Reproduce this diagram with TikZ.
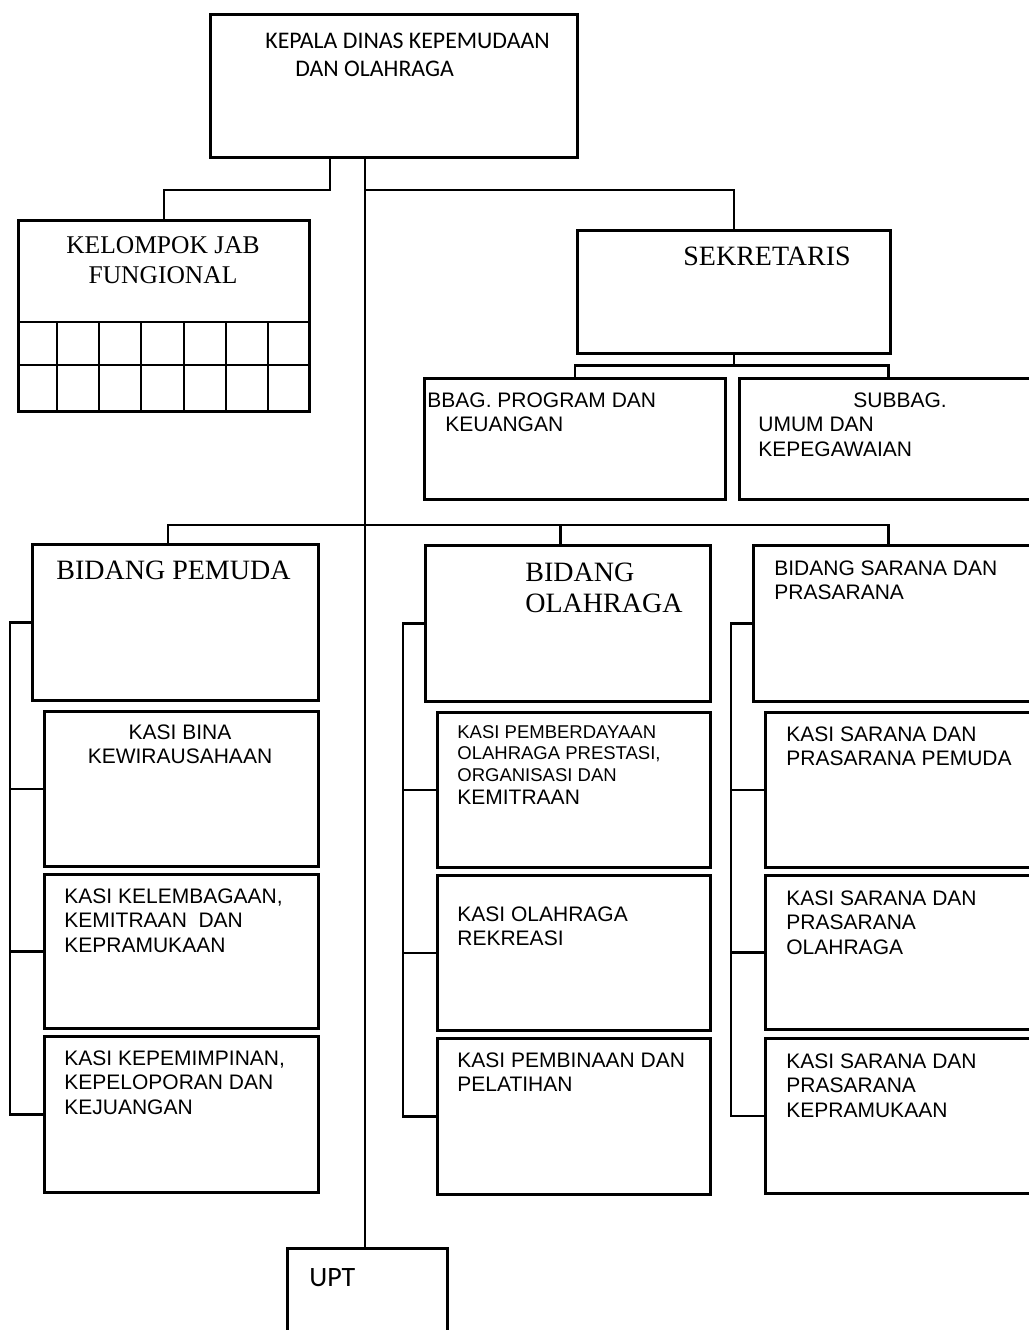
\documentclass[tikz,border=0pt]{standalone}
\usepackage{fontspec}
\setmainfont{Liberation Serif}
\newfontfamily\arial{Liberation Sans}
\newfontfamily\calibri{Carlito}
\usepackage{tikz}

\begin{document}
\begin{tikzpicture}[x=0.5pt,y=-0.5pt,
	box/.style={draw=black,line width=1.3pt,rectangle,anchor=north west,inner sep=0pt},
	link/.style={line width=1.3pt},
	lbl/.style={anchor=north west,inner sep=0pt,align=left,font=\arial\fontsize{10.5}{12.25}\selectfont},
	small/.style={lbl,font=\arial\fontsize{9.25}{10.75}\selectfont},
	serif/.style={lbl,font=\fontsize{14}{15.5}\selectfont},
	cal/.style={lbl,font=\calibri\fontsize{11.9}{14}\selectfont}]
	\path[use as bounding box,clip] (0,0) rectangle (1029,1330);

	% boxes
	\node[box,minimum width=183.5pt,minimum height=71.5pt] (kepala) at (209,13) {};
	\node[box,minimum width=145.5pt,minimum height=95.5pt] (kelompok) at (17,219) {};
	\node[box,minimum width=156.5pt,minimum height=61.5pt] (sekretaris) at (576,229) {};
	\node[box,minimum width=150.5pt,minimum height=60.5pt] (program) at (423,377) {};
	\node[box,minimum width=149pt,minimum height=60.5pt] (umum) at (738,377) {};
	\node[box,minimum width=143pt,minimum height=78pt] (pemuda) at (31,543) {};
	\node[box,minimum width=142.5pt,minimum height=78pt] (olahraga) at (424,544) {};
	\node[box,minimum width=150pt,minimum height=78pt] (sarana) at (752,544) {};
	\node[box,minimum width=137pt,minimum height=77.5pt] (kasiBina) at (43,710) {};
	\node[box,minimum width=137pt,minimum height=77pt] (kasiLembaga) at (43,873) {};
	\node[box,minimum width=137pt,minimum height=78pt] (kasiPimpin) at (43,1035) {};
	\node[box,minimum width=136.5pt,minimum height=77.5pt] (kasiPrestasi) at (436,711) {};
	\node[box,minimum width=136.5pt,minimum height=77.5pt] (kasiRekreasi) at (436,874) {};
	\node[box,minimum width=136.5pt,minimum height=78pt] (kasiLatih) at (436,1037) {};
	\node[box,minimum width=150pt,minimum height=77.5pt] (kasiSpemuda) at (764,711) {};
	\node[box,minimum width=150pt,minimum height=77pt] (kasiSolahraga) at (764,874) {};
	\node[box,minimum width=150pt,minimum height=77.5pt] (kasiSpramuka) at (764,1037) {};
	\node[box,minimum width=80pt,minimum height=60pt] (upt) at (286,1247) {};

	% grid of kelompok jab fungional
	\draw[link] (17,322) -- (308,322);
	\draw[link] (17,365) -- (308,365);
	\foreach \gx in {57,99,141,184,226,268}
		\draw[link] (\gx,322) -- (\gx,410);

	% texts
	\node[cal] (tKepala) at (265,33) {KEPALA DINAS KEPEMUDAAN\\\hspace*{15pt}DAN OLAHRAGA};
	\node[serif,anchor=north,align=center,font=\fontsize{12.75}{15}\selectfont] (tKelompok) at (163,236) {KELOMPOK JAB\\FUNGIONAL};
	\node[serif] (tSekretaris) at (683,246.5) {SEKRETARIS};
	\node[lbl] (tProgram) at (427,392) {BBAG. PROGRAM DAN\\\hspace*{9pt}KEUANGAN};
	\node[lbl] (tUmum) at (758,392) {\hspace*{47.5pt}SUBBAG.\\UMUM DAN\\KEPEGAWAIAN};
	\node[serif] (tPemuda) at (56,560.5) {BIDANG PEMUDA};
	\node[serif] (tOlahraga) at (525,562.5) {BIDANG\\OLAHRAGA};
	\node[lbl] (tSarana) at (774,560) {BIDANG SARANA DAN\\PRASARANA};
	\node[lbl,anchor=north,align=center] (tBina) at (180,724) {KASI BINA\\KEWIRAUSAHAAN};
	\node[lbl] (tLembaga) at (64,888) {KASI KELEMBAGAAN,\\KEMITRAAN\ \ DAN\\KEPRAMUKAAN};
	\node[lbl] (tPimpin) at (64,1050) {KASI KEPEMIMPINAN,\\KEPELOPORAN DAN\\KEJUANGAN};
	\node[small] (tPrestasi) at (457,724.8) {KASI PEMBERDAYAAN\\OLAHRAGA PRESTASI,\\ORGANISASI DAN};
	\node[lbl] (tMitra) at (457,790) {KEMITRAAN};
	\node[lbl] (tRekreasi) at (457,906) {KASI OLAHRAGA\\REKREASI};
	\node[lbl] (tLatih) at (457,1052) {KASI PEMBINAAN DAN\\PELATIHAN};
	\node[lbl] (tSpemuda) at (786,726) {KASI SARANA DAN\\PRASARANA PEMUDA};
	\node[lbl] (tSolahraga) at (786,890) {KASI SARANA DAN\\PRASARANA\\OLAHRAGA};
	\node[lbl] (tSpramuka) at (786,1053) {KASI SARANA DAN\\PRASARANA\\KEPRAMUKAAN};
	\node[cal,font=\calibri\fontsize{14}{16}\selectfont] (tUpt) at (309,1268) {UPT};

	% connectors
	\coordinate (kd) at (330,156);
	\coordinate (spine) at (365,156);
	\draw[link] (kd) -- ++(0,34) -| (kelompok.north);
	\draw[link] (spine) -- (spine |- upt.north);
	\draw[link] (spine) ++(0,34) -| (sekretaris.north);
	\draw[link] (sekretaris.south) -- ++(0,11) coordinate (sj);
	\draw[link] (program.north) |- (sj) -| (umum.north);
	\draw[link] ([xshift=-3.75pt]pemuda.north) -- ++(0,-18) -| ([xshift=-7.5pt]sarana.north);
	\draw[link] ([xshift=-3.75pt]olahraga.north) -- ++(0,-19);

	\draw[link] (pemuda.west) -- ++(-21,0) coordinate (pb) |- (kasiPimpin.west);
	\foreach \k in {kasiBina,kasiLembaga}
		\draw[link] (pb |- \k.west) -- (\k.west);
	\draw[link] (olahraga.west) -- ++(-21,0) coordinate (ob) |- (kasiLatih.west);
	\foreach \k in {kasiPrestasi,kasiRekreasi}
		\draw[link] (ob |- \k.west) -- (\k.west);
	\draw[link] (sarana.west) -- ++(-21,0) coordinate (sb) |- (kasiSpramuka.west);
	\foreach \k in {kasiSpemuda,kasiSolahraga}
		\draw[link] (sb |- \k.west) -- (\k.west);

\end{tikzpicture}
\end{document}
